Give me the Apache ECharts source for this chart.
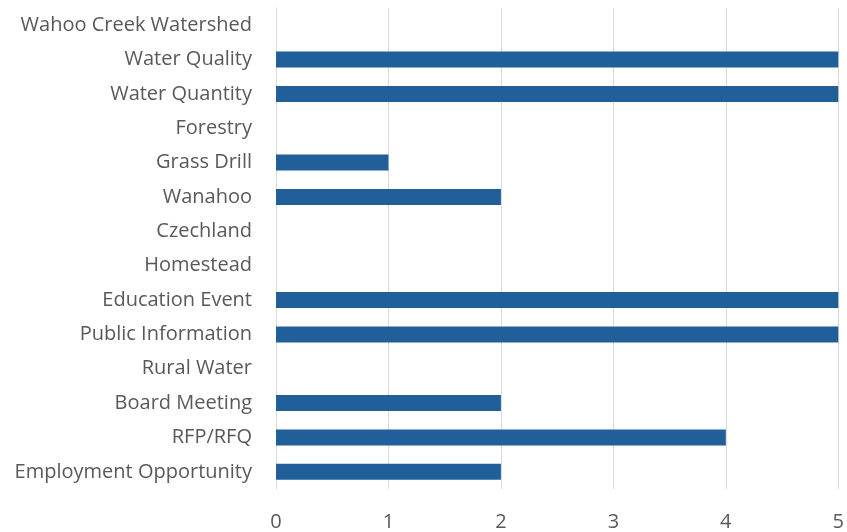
<!DOCTYPE html>
<html>
<head>
<meta charset="utf-8">
<script src="https://cdn.jsdelivr.net/npm/echarts@6/dist/echarts.min.js"></script>
<style>
  html, body { margin: 0; padding: 0; background: #ffffff; }
  #chart { width: 847px; height: 532px; }
</style>
</head>
<body>
<div id="chart"></div>
<script>
// Topic categories, listed bottom to top as drawn on the category axis
const categories = [
  'Employment Opportunity',
  'RFP/RFQ',
  'Board Meeting',
  'Rural Water',
  'Public Information',
  'Education Event',
  'Homestead',
  'Czechland',
  'Wanahoo',
  'Grass Drill',
  'Forestry',
  'Water Quantity',
  'Water Quality',
  'Wahoo Creek Watershed'
];

// Count per category (values above the axis maximum run off the plot)
const counts = [2, 4, 2, 0, 6, 6, 0, 0, 2, 1, 0, 5, 6, 0];

const xTicks = [0, 1, 2, 3, 4, 5];

const labelFont = '"Open Sans", "Noto Sans", sans-serif';

const chart = echarts.init(document.getElementById('chart'), null, { renderer: 'canvas' });

chart.setOption({
  animation: false,
  backgroundColor: '#ffffff',
  grid: { left: 276, right: 6, top: 8, bottom: 41, containLabel: false },
  xAxis: {
    type: 'value',
    min: xTicks[0],
    max: xTicks[xTicks.length - 1],
    interval: 1,
    axisLine: { show: false },
    axisTick: { show: false },
    splitLine: { show: true, lineStyle: { color: '#d9d9d9', width: 1 } },
    axisLabel: {
      margin: 23,
      color: '#595959',
      fontSize: 20,
      fontFamily: labelFont
    }
  },
  yAxis: {
    type: 'category',
    data: categories,
    axisLine: { show: true, lineStyle: { color: '#d9d9d9', width: 1 } },
    axisTick: { show: false },
    axisLabel: {
      margin: 24,
      color: '#595959',
      fontSize: 20,
      fontFamily: labelFont
    }
  },
  series: [{
    type: 'bar',
    data: counts,
    barWidth: 16,
    clip: true,
    itemStyle: { color: '#215f9a' }
  }]
});
</script>
</body>
</html>
